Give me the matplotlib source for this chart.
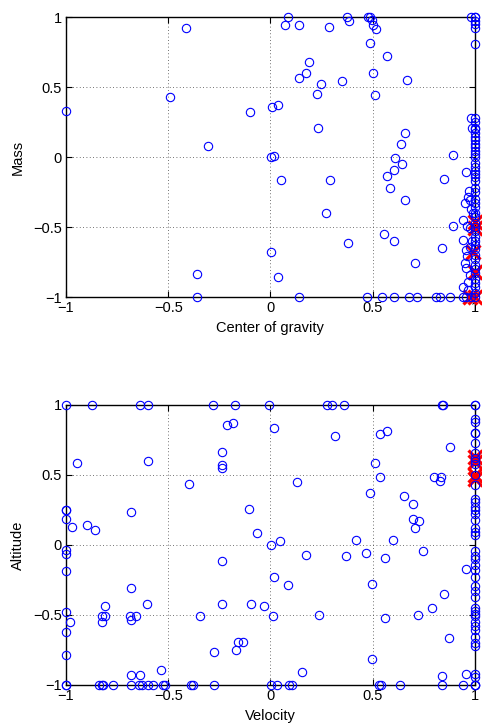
import matplotlib
matplotlib.use("Agg")
import matplotlib.pyplot as plt

plt.rcParams['font.family'] = ['Liberation Sans', 'DejaVu Sans']

# --- upper panel: center of gravity vs mass ---
cog_x = [-1, -0.415, -0.49, -0.307, -0.102, 0.001, 0.017, 0.009, 0.038, 0.087,
         0.071, 0.141, 0.139, 0.174, 0.187, 0.229, 0.249, 0.231, 0.286, 0.351,
         0.376, 0.384, 0.48, 0.487, 0.498, 0.504, 0.516, 0.487, 0.503, 0.511,
         0.571, 0.669, 0.658, 0.638, 0.61, 0.646, 0.606, 0.57, 0.892, 0.847,
         0.958, 0.981, 0.981, 0.987, 0.051, 0.293, 0.584, 0.658, 0.273, 0.382,
         0.557, 0.607, 0.707, 0.84, 0.894, 0.001, -0.361, 0.035,
         -0.359, 0.139, 0.472, 0.548, 0.607, 0.677, 0.718, 0.808, 0.832, 0.879,
         0.94, 0.957, 0.98,
         0.97, 0.967, 0.951, 0.975, 0.98, 0.941, 0.96, 0.975, 0.941, 0.975,
         0.956, 0.951, 0.975, 0.966, 0.941, 0.966, 0.96, 0.985, 0.99, 0.956]
mass_y = [0.33, 0.924, 0.431, 0.081, 0.319, 0.0, 0.01, 0.36, 0.369, 1.0,
          0.945, 0.94, 0.567, 0.598, 0.676, 0.448, 0.524, 0.205, 0.931, 0.543,
          1.0, 0.971, 1.0, 1.0, 0.979, 0.94, 0.917, 0.814, 0.6, 0.44,
          0.724, 0.552, 0.169, 0.093, -0.01, -0.05, -0.095, -0.136, 0.012, -0.157,
          -0.107, 1.0, 0.279, 0.207, -0.167, -0.162, -0.219, -0.31, -0.402, -0.612,
          -0.548, -0.602, -0.755, -0.648, -0.49, -0.679, -0.836, -0.86,
          -1, -1, -1, -1, -1, -1, -1, -1, -1, -1,
          -1, -1, -1,
          -0.24, -0.286, -0.33, -0.31, -0.37, -0.45, -0.49, -0.51, -0.593, -0.64,
          -0.664, -0.757, -0.84, -0.89, -0.93, -0.95, -0.71, -0.6, -0.4, -0.79]
# points sitting on the right edge (cog = 1)
mass_edge = [1.0, 1.0, 0.97, 0.95, 0.92, 0.81, 0.28, 0.25, 0.21, 0.2, 0.17,
             0.14, 0.12, 0.09, 0.07, 0.04, 0.02, 0.0, -0.04, -0.07, -0.1,
             -0.12, -0.14, -0.17, -0.22, -0.25, -0.3, -0.33, -0.36, -0.4,
             -0.43, -0.47, -0.5, -0.53, -0.57, -0.6, -0.63, -0.66, -0.7,
             -0.73, -0.77, -0.8, -0.83, -0.87, -0.9, -0.93, -0.97, -1.0]
cog_red = [1, 1, 0.99, 1, 0.976, 1]
mass_red = [-0.464, -0.505, -0.679, -0.824, -1.0, -1.0]

# --- lower panel: velocity vs altitude ---
vel_x = [-1, -0.871, -0.64, -0.597, -0.28, -0.172, -0.006, 0.279, 0.302, 0.362,
         0.84, 0.845,
         -0.946, -0.971, -0.899, -0.857, -0.682, -0.597, -0.399, -0.239,
         -0.239, -0.239, -0.211, -0.185, -0.107, -0.068, 0.002, 0.048, 0.02,
         0.128, 0.317, 0.421, 0.485, 0.514, 0.535, 0.537, 0.57, 0.602, 0.653,
         0.7, 0.7, 0.708, 0.729, 0.747, 0.801, 0.829, 0.837, 0.878,
         -1, -1, -1, -1, -1, -1, -1, -1, -1,
         -0.979, -0.682, -0.809, -0.826, -0.808, -0.823, -0.689, -0.658, -0.684,
         -0.603, -0.682, -0.637, -0.537, -0.345, -0.239, -0.239, -0.278, -0.167,
         -0.157, -0.133, -0.097, -0.033, 0.014, 0.019, 0.087, 0.172, 0.238,
         0.157, 0.368, 0.47, 0.496, 0.563, 0.562, 0.498, 0.723, 0.793, 0.847,
         0.876, 0.958, 0.84, 0.958,
         -1, -1, -0.84, -0.826, -0.818, -0.769, -0.682, -0.642, -0.63, -0.599,
         -0.576, -0.527, -0.516, -0.389, -0.381, -0.278, 0.001, 0.032, 0.089,
         0.107, 0.532, 0.54, 0.633, 0.84, 0.941]
alt_y = [1, 1, 1, 1, 1, 1, 1, 1, 1, 1,
         1, 1,
         0.588, 0.126, 0.145, 0.11, 0.236, 0.6, 0.436, 0.664,
         0.569, 0.55, 0.857, 0.869, 0.255, 0.086, 0.002, 0.026, 0.833,
         0.45, 0.779, 0.038, 0.371, 0.588, 0.486, 0.793, 0.814, 0.038, 0.348,
         0.29, 0.188, 0.124, 0.169, -0.04, 0.486, 0.455, 0.486, 0.702,
         0.248, 0.25, 0.188, -0.038, -0.062, -0.184, -0.482, -0.625, -0.785,
         -0.547, -0.31, -0.439, -0.506, -0.506, -0.547, -0.506, -0.506, -0.535,
         -0.425, -0.926, -0.931, -0.895, -0.506, -0.115, -0.425, -0.761, -0.752,
         -0.69, -0.69, -0.425, -0.434, -0.506, -0.232, -0.286, -0.072, -0.501,
         -0.907, -0.076, -0.057, -0.279, -0.095, -0.525, -0.811, -0.501, -0.453, -0.348,
         -0.663, -0.172, -0.933, -0.924,
         -1, -1, -1, -1, -1, -1, -1, -1, -1, -1,
         -1, -1, -1, -1, -1, -1, -1, -1, -1,
         -1, -1, -1, -1, -1, -1]
# points sitting on the right edge (velocity = 1)
alt_edge = [1.0, 1.0, 0.9, 0.88, 0.8, 0.8, 0.73, 0.66, 0.62, 0.6, 0.58, 0.5,
            0.43, 0.33, 0.31, 0.27, 0.25, 0.22, 0.18, 0.12, 0.09, 0.07,
            -0.04, -0.08, -0.1, -0.14, -0.18, -0.23, -0.29, -0.33, -0.37,
            -0.45, -0.47, -0.49, -0.51, -0.55, -0.58, -0.61, -0.66, -0.7,
            -0.72, -0.92, -0.94, -1.0, -1.0, -1.0]
vel_red = [1, 1, 1, 1]
alt_red = [0.63, 0.59, 0.5, 0.47]

fig = plt.figure(figsize=(4.82, 7.25), dpi=100)
ax1 = fig.add_axes([0.137, 0.5903, 0.848, 0.3862])
ax2 = fig.add_axes([0.137, 0.0552, 0.848, 0.3862])

panels = [
    (ax1, cog_x, mass_y, mass_edge, cog_red, mass_red, 'Center of gravity', 'Mass'),
    (ax2, vel_x, alt_y, alt_edge, vel_red, alt_red, 'Velocity', 'Altitude'),
]

ticks = [-1, -0.5, 0, 0.5, 1]
ticklabels = ['\u22121', '\u22120.5', '0', '0.5', '1']

for ax, xs, ys, edge, rx, ry, xlab, ylab in panels:
    ax.plot(rx, ry, 'x', color='red', markersize=10.5, mew=2.3, clip_on=False, zorder=3)
    ax.plot(xs, ys, 'o', mfc='none', mec='blue', markersize=6, mew=0.8,
            clip_on=False, zorder=4)
    ax.plot([1] * len(edge), edge, 'o', mfc='none', mec='blue', markersize=6,
            mew=0.8, clip_on=False, zorder=4)
    ax.set_xlim(-1, 1)
    ax.set_ylim(-1, 1)
    ax.set_xticks(ticks)
    ax.set_yticks(ticks)
    ax.set_xticklabels(ticklabels)
    ax.set_yticklabels(ticklabels)
    ax.tick_params(direction='in', top=True, right=True, length=4, width=0.8,
                   labelsize=10.5, pad=3)
    ax.grid(True, linestyle=(0, (1, 3)), color='#444444', linewidth=0.6)
    for s in ax.spines.values():
        s.set_linewidth(1.0)
    ax.set_xlabel(xlab, fontsize=10.5, labelpad=4)
    ax.set_ylabel(ylab, fontsize=10.5, labelpad=6)

fig.savefig('out.png', dpi=100)
